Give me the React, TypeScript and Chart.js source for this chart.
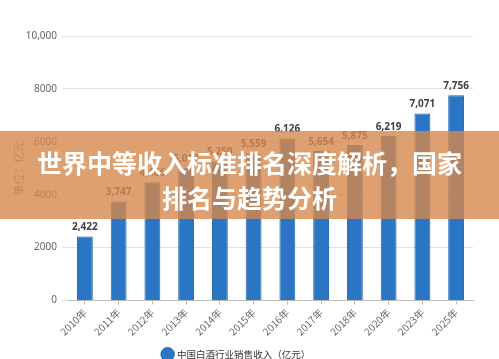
import React, { useEffect, useRef } from "react";
import { Chart, registerables } from "chart.js";

Chart.register(...registerables);

const categories = ["2010年", "2011年", "2012年", "2013年", "2014年", "2015年", "2016年", "2017年", "2018年", "2020年", "2023年", "2025年"];
const revenue = [2422, 3747, 4466, 5018, 5259, 5559, 6126, 5654, 5875, 6219, 7071, 7756];
const seriesName = "中国白酒行业销售收入（亿元）";
const yTitle = "单位：亿元";
const bannerLines = ["世界中等收入标准排名深度解析，国家", "排名与趋势分析"];

const fmt = (v: number) => v.toLocaleString("en-US");

const labelPlugin = {
  id: "barLabels",
  afterDatasetsDraw(chart: any) {
    const ctx = chart.ctx;
    const meta = chart.getDatasetMeta(0);
    ctx.save();
    ctx.font = "bold 10px 'Noto Sans', 'DejaVu Sans', sans-serif";
    ctx.fillStyle = "#404040";
    ctx.textAlign = "center";
    ctx.textBaseline = "bottom";
    meta.data.forEach((bar: any, i: number) => {
      ctx.fillText(fmt(revenue[i]), bar.x, bar.y - 4);
    });
    ctx.restore();
  },
};

export default function App() {
  const ref = useRef<HTMLCanvasElement>(null);
  useEffect(() => {
    if (!ref.current) return;
    const chart = new Chart(ref.current, {
      type: "bar",
      data: {
        labels: categories,
        datasets: [
          {
            label: seriesName,
            data: revenue,
            backgroundColor: "#2a76c4",
            borderColor: "#2266ad",
            borderWidth: 1,
            barPercentage: 0.47,
            categoryPercentage: 1,
          },
        ],
      },
      options: {
        animation: false,
        responsive: false,
        maintainAspectRatio: false,
        layout: { padding: { top: 36, right: 26, bottom: 6, left: 0 } },
        plugins: {
          tooltip: { enabled: false },
          legend: {
            position: "bottom",
            labels: {
              usePointStyle: true,
              pointStyle: "circle",
              boxWidth: 10,
              boxHeight: 10,
              padding: 5,
              color: "#333",
              font: { size: 9.5, family: "'Noto Sans CJK SC', sans-serif" },
            },
          },
        },
        scales: {
          x: {
            grid: { drawOnChartArea: false, drawTicks: true, tickLength: 4, offset: false, color: "#bbb" },
            border: { color: "#bbb" },
            ticks: {
              maxRotation: 45,
              minRotation: 45,
              color: "#666",
              padding: 2,
              font: { size: 10, family: "'Noto Sans CJK SC', sans-serif" },
            },
            afterFit: (s: any) => {
              s.height = 44;
            },
          },
          y: {
            min: 0,
            max: 10000,
            ticks: {
              stepSize: 2000,
              color: "#666",
              padding: 5,
              font: { size: 10, family: "'Noto Sans', sans-serif" },
              callback: (v: any) => (v >= 10000 ? fmt(v) : String(v)),
            },
            grid: { color: "#e2e2e2", tickLength: 6 },
            border: { display: false },
            title: {
              display: true,
              text: yTitle,
              color: "#a08060",
              font: { size: 11, family: "'Noto Sans CJK SC', sans-serif" },
              padding: { top: 12, bottom: 0 },
            },
            afterFit: (s: any) => {
              s.width = 68;
            },
          },
        },
      },
      plugins: [labelPlugin],
    });
    return () => chart.destroy();
  }, []);

  return (
    <div style={{ position: "fixed", left: 0, top: 0, width: 499, height: 359, overflow: "hidden", background: "#fff" }}>
      <canvas ref={ref} width={499} height={375} style={{ display: "block" }} />
      <div
        style={{
          position: "absolute",
          left: 0,
          top: 131,
          width: 499,
          height: 88,
          background: "rgba(214,136,76,0.8)",
          color: "#fff",
          fontFamily: "'Noto Sans CJK SC', sans-serif",
          fontWeight: 700,
          fontSize: 25,
          lineHeight: "35px",
          textAlign: "center",
          paddingTop: 14,
          boxSizing: "border-box",
        }}
      >
        {bannerLines.map((l, i) => (
          <div key={i}>{l}</div>
        ))}
      </div>
    </div>
  );
}
